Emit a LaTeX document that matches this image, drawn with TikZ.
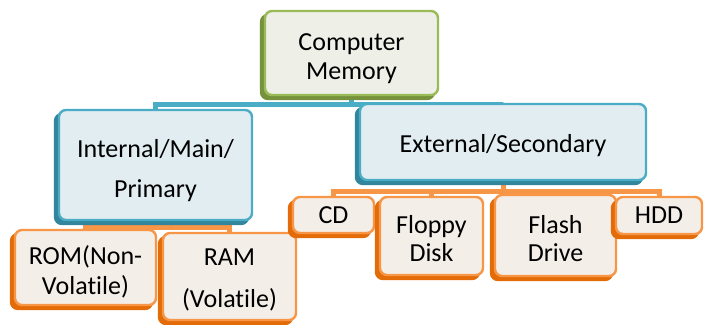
\documentclass[tikz,border=0pt]{standalone}
\usepackage{fontspec}
\setmainfont{Carlito}[Ligatures=NoCommon]
\usetikzlibrary{backgrounds,shadows,calc}
\definecolor{memgreen}{HTML}{9BBB59}
\definecolor{memgreendark}{HTML}{76923C}
\definecolor{memgreenface}{HTML}{EEF0E8}
\definecolor{memblue}{HTML}{4BACC6}
\definecolor{membluedark}{HTML}{31859C}
\definecolor{memblueface}{HTML}{E2EDF2}
\definecolor{memorange}{HTML}{F79646}
\definecolor{memorangedark}{HTML}{E36C09}
\definecolor{memorangeface}{HTML}{F4EEE8}
\tikzset{
  membox/.style={draw,rounded corners=7pt,line width=2.4pt,inner sep=0pt,align=center,
    font=\fontsize{26}{29}\selectfont},
  lowtext/.style={execute at begin node={\rule{0pt}{#1}}},
  topbox/.style={membox,draw=memgreen,fill=memgreenface,
    general shadow={shadow xshift=-4pt,shadow yshift=-4pt,fill=memgreendark,draw=memgreendark}},
  midbox/.style={membox,draw=memblue,fill=memblueface,
    general shadow={shadow xshift=-4pt,shadow yshift=-4pt,fill=membluedark,draw=membluedark}},
  leafbox/.style={membox,draw=memorange,fill=memorangeface,
    general shadow={shadow xshift=-4pt,shadow yshift=-4pt,fill=memorangedark,draw=memorangedark}},
  blueconn/.style={draw=memblue,line width=5pt},
  orangeconn/.style={draw=memorange,line width=5pt}
}
\begin{document}
\begin{tikzpicture}[x=1pt,y=-1pt,line join=round]
\useasboundingbox (0,0) rectangle (704,324);
\node[topbox,lowtext=58pt,minimum width=173pt,minimum height=84pt] (mem) at (351.5,53) {Computer\\Memory};
\node[midbox,lowtext=70pt,minimum width=193pt,minimum height=110pt,font=\fontsize{26}{40}\selectfont] (int) at (155.5,165) {Internal/Main/\\Primary};
\node[midbox,lowtext=26pt,minimum width=286pt,minimum height=76pt] (ext) at (503,142) {External/Secondary};
\node[leafbox,lowtext=58pt,minimum width=141pt,minimum height=75pt,font=\fontsize{26}{30}\selectfont] (rom) at (85.5,267.5) {ROM(Non-\\Volatile)};
\node[leafbox,lowtext=66pt,minimum width=133pt,minimum height=87pt,font=\fontsize{26}{42}\selectfont] (ram) at (229.5,276.5) {RAM\\(Volatile)};
\node[leafbox,minimum width=81pt,minimum height=36pt] (cd) at (333.5,215) {CD};
\node[leafbox,lowtext=52pt,minimum width=103pt,minimum height=78pt,font=\fontsize{26}{28}\selectfont] (floppy) at (431.5,236) {Floppy\\Disk};
\node[leafbox,lowtext=52pt,minimum width=121pt,minimum height=81pt,font=\fontsize{26}{28}\selectfont] (flash) at (555.5,235.5) {Flash\\Drive};
\node[leafbox,minimum width=86pt,minimum height=37pt] (hdd) at (659,215.5) {HDD};
\begin{scope}[on background layer]
\draw[blueconn] (mem.south) -- ++(0,8) -| (int.north);
\draw[blueconn] (mem.south) -- ++(0,8) -| (ext.north);
\draw[orangeconn] (int.south) -- ++(0,6) -| (rom.north);
\draw[orangeconn] (int.south) -- ++(0,6) -| (ram.north);
\draw[orangeconn] (ext.south) -- ++(0,10) -| (cd.north);
\draw[orangeconn] (ext.south) -- ++(0,10) -| (floppy.north);
\draw[orangeconn] (ext.south) -- ++(0,10) -| (flash.north);
\draw[orangeconn] (ext.south) -- ++(0,10) -| (hdd.north);
\end{scope}
\end{tikzpicture}
\end{document}
